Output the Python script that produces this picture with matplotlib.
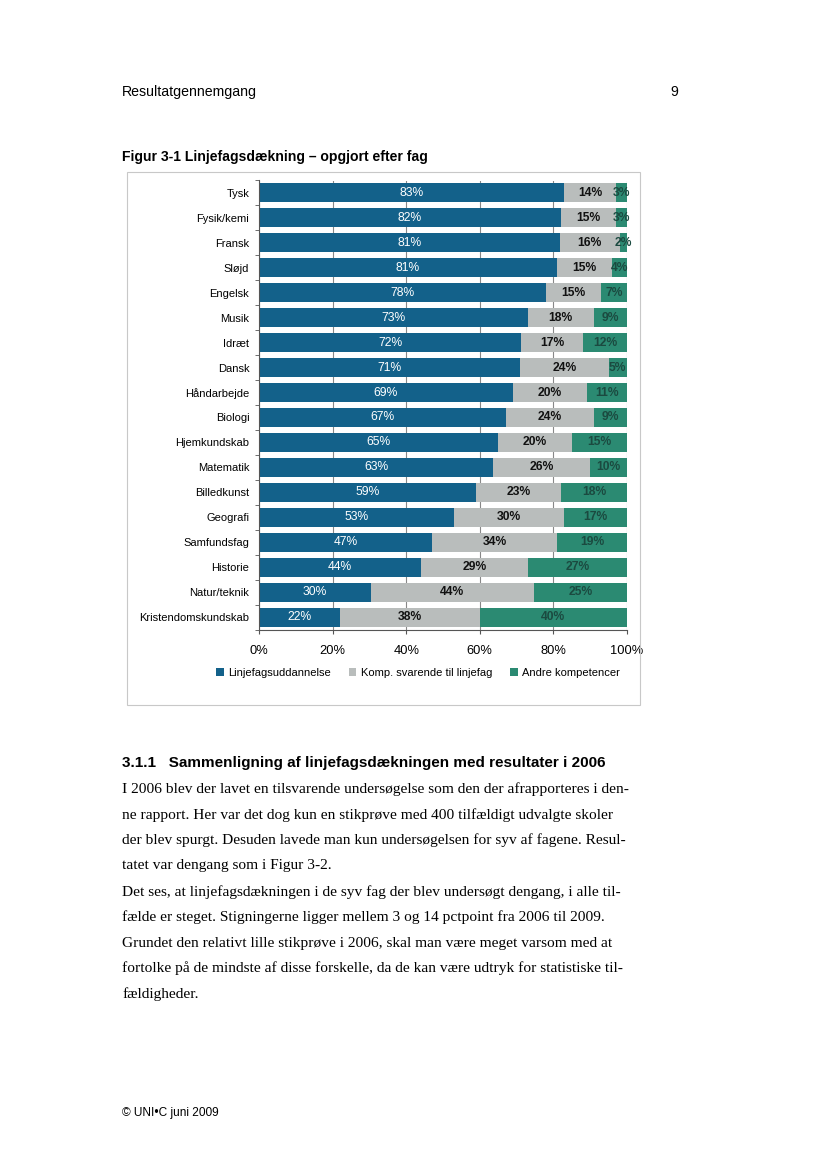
import matplotlib
matplotlib.use("Agg")
import matplotlib.pyplot as plt
import numpy as np
from matplotlib.patches import Rectangle

subjects = [
    "Tysk", "Fysik/kemi", "Fransk", "Sløjd", "Engelsk", "Musik", "Idræt",
    "Dansk", "Håndarbejde", "Biologi", "Hjemkundskab", "Matematik",
    "Billedkunst", "Geografi", "Samfundsfag", "Historie", "Natur/teknik",
    "Kristendomskundskab",
]
linjefag = [83, 82, 81, 81, 78, 73, 72, 71, 69, 67, 65, 63, 59, 53, 47, 44, 30, 22]
komp = [14, 15, 16, 15, 15, 18, 17, 24, 20, 24, 20, 26, 23, 30, 34, 29, 44, 38]
andre = [3, 3, 2, 4, 7, 9, 12, 5, 11, 9, 15, 10, 18, 17, 19, 27, 25, 40]

series_names = ["Linjefagsuddannelse", "Komp. svarende til linjefag", "Andre kompetencer"]
x_ticks = [0, 20, 40, 60, 80, 100]

BLUE = "#13618a"
GREY = "#b9bdbc"
GREEN = "#2b8a72"

W, H = 826, 1169
SANS = ["Liberation Sans", "DejaVu Sans"]
SERIF = ["Liberation Serif", "DejaVu Serif"]


def fx(px):
    return px / W


def fy(py):
    return 1 - py / H


fig = plt.figure(figsize=(8.26, 11.69), dpi=100)
fig.patch.set_facecolor("white")

# page text
fig.text(fx(122), fy(92), "Resultatgennemgang", family=SANS, fontsize=10.2, va="center")
fig.text(fx(678), fy(92), "9", family=SANS, fontsize=10.2, va="center", ha="right")
fig.text(fx(122), fy(157), "Figur 3-1 Linjefagsdækning – opgjort efter fag",
         family=SANS, fontsize=10.1, fontweight="bold", va="center")

# chart frame
fig.patches.append(Rectangle((fx(127), fy(705)), fx(640) - fx(127), fy(172) - fy(705),
                             transform=fig.transFigure, fill=False,
                             edgecolor="#c8c8c8", linewidth=0.8))

ax = fig.add_axes([fx(259), fy(629.5), fx(627) - fx(259), fy(180.5) - fy(629.5)])

vals = np.array([linjefag, komp, andre], dtype=float)
widths = vals / vals.sum(axis=0) * 100
y = np.arange(len(subjects))
colors = [BLUE, GREY, GREEN]
text_colors = ["white", "#111111", "#1b4a40"]
weights = ["normal", "bold", "bold"]

left = np.zeros(len(subjects))
for k in range(3):
    ax.barh(y, widths[k], left=left, height=0.76, color=colors[k],
            label=series_names[k], zorder=2)
    for i in range(len(subjects)):
        ax.text(left[i] + widths[k][i] / 2, y[i], f"{int(vals[k][i])}%",
                ha="center", va="center", fontsize=8.7, color=text_colors[k],
                fontweight=weights[k], family=SANS, zorder=3)
    left += widths[k]

ax.set_xlim(0, 100)
ax.set_ylim(len(subjects) - 0.5, -0.5)
ax.set_yticks(y)
ax.set_yticklabels(subjects, family=SANS, fontsize=8)
ax.set_yticks(np.arange(-0.5, len(subjects), 1), minor=True)
ax.tick_params(axis="y", which="major", length=0, pad=7)
ax.tick_params(axis="y", which="minor", length=3, color="#555555")
ax.set_xticks(x_ticks)
ax.set_xticklabels([f"{t}%" for t in x_ticks], family=SANS, fontsize=9.3)
ax.tick_params(axis="x", length=3, color="#555555", pad=8)
ax.grid(axis="x", color="#888888", linewidth=0.8, zorder=0)
for s in ["top", "right"]:
    ax.spines[s].set_visible(False)
ax.spines["left"].set_color("#555555")
ax.spines["bottom"].set_color("#555555")

fig.legend(loc="center", bbox_to_anchor=(fx(418), fy(673)), ncol=3, frameon=False,
           prop={"family": SANS, "size": 8}, handlelength=0.7, handleheight=0.7,
           handletextpad=0.4, columnspacing=1.6)

# section text
fig.text(fx(122), fy(763), "3.1.1   Sammenligning af linjefagsdækningen med resultater i 2006",
         family=SANS, fontsize=11, fontweight="bold", va="center")

body_lines = [
    (789, "I 2006 blev der lavet en tilsvarende undersøgelse som den der afrapporteres i den-"),
    (815, "ne rapport. Her var det dog kun en stikprøve med 400 tilfældigt udvalgte skoler"),
    (840, "der blev spurgt. Desuden lavede man kun undersøgelsen for syv af fagene. Resul-"),
    (866, "tatet var dengang som i Figur 3-2."),
    (892, "Det ses, at linjefagsdækningen i de syv fag der blev undersøgt dengang, i alle til-"),
    (917, "fælde er steget. Stigningerne ligger mellem 3 og 14 pctpoint fra 2006 til 2009."),
    (943, "Grundet den relativt lille stikprøve i 2006, skal man være meget varsom med at"),
    (968, "fortolke på de mindste af disse forskelle, da de kan være udtryk for statistiske til-"),
    (994, "fældigheder."),
]
for py, line in body_lines:
    fig.text(fx(122), fy(py), line, family=SERIF, fontsize=11.1, va="center")

fig.text(fx(122), fy(1113), "© UNI•C juni 2009", family=SANS, fontsize=8.6, va="center")

fig.savefig("out.png", dpi=100, facecolor="white")
